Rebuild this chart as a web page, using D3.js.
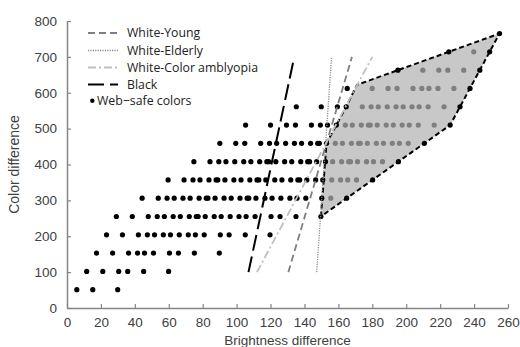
<!DOCTYPE html>
<html>
<head>
<meta charset="utf-8">
<script src="https://cdn.jsdelivr.net/npm/d3@7"></script>
<style>
body { margin: 0; background: #fff; }
text { font-family: "Liberation Sans", Arial, sans-serif; }
.legend text { font-family: "Open Sans", "Noto Sans", sans-serif; }
</style>
</head>
<body>
<script>
// colour difference levels (one row of dots per level)
var colorDiff = [51, 102, 153, 204, 255, 306, 357, 408, 459, 510, 561, 612, 663, 714, 765];

// brightness difference of every dot in each row
var brightness = [
  [5.8, 15.2, 29.9],
  [11.6, 21.1, 30.5, 35.8, 45.2, 59.9],
  [17.4, 26.9, 36.3, 41.6, 45.7, 51.0, 60.4, 65.7, 75.1, 89.8],
  [23.3, 32.7, 42.1, 47.4, 51.6, 56.8, 61.0, 66.2, 71.5, 75.7, 80.9, 90.4, 95.6, 105.1, 119.7],
  [29.1, 38.5, 47.9, 53.2, 57.4, 62.6, 66.8, 72.1, 76.2, 77.3, 81.5, 86.8, 90.9, 96.2, 101.4, 105.6, 110.9, 120.3, 125.6, 135.0, 149.7],
  [44.3, 53.8, 59.0, 63.2, 68.4, 72.6, 77.9, 82.1, 83.1, 87.3, 92.6, 96.8, 102.0, 106.2, 107.2, 111.4, 116.7, 120.9, 126.1, 131.4, 135.6, 140.8, 150.2, 155.5, 164.9],
  [59.6, 69.0, 74.3, 78.4, 83.7, 87.9, 88.9, 93.1, 98.4, 102.6, 107.8, 112.0, 113.1, 117.2, 122.5, 126.7, 131.9, 136.1, 137.2, 141.4, 146.6, 150.8, 156.1, 161.3, 165.5, 170.7, 180.2],
  [74.8, 84.3, 89.5, 93.7, 98.9, 104.2, 108.4, 113.6, 117.8, 118.9, 123.1, 128.3, 132.5, 137.8, 141.9, 143.0, 147.2, 152.4, 156.6, 161.9, 166.1, 167.1, 171.3, 176.6, 180.7, 186.0, 195.4],
  [90.1, 99.5, 104.8, 114.2, 119.4, 123.6, 128.9, 134.1, 138.3, 143.6, 147.8, 148.8, 153.0, 158.2, 162.4, 167.7, 171.9, 172.9, 177.1, 182.4, 186.6, 191.8, 196.0, 201.2, 210.7],
  [105.3, 120.0, 129.4, 134.7, 144.1, 149.4, 153.6, 158.8, 164.1, 168.2, 173.5, 177.7, 178.8, 182.9, 188.2, 192.4, 197.6, 201.8, 207.1, 216.5, 225.9],
  [135.2, 149.9, 159.4, 164.6, 174.1, 179.3, 183.5, 188.8, 194.0, 198.2, 203.4, 207.6, 212.9, 222.3, 231.7],
  [165.2, 179.9, 189.3, 194.6, 204.0, 209.2, 213.4, 218.7, 228.1, 237.6],
  [195.1, 209.8, 219.2, 224.5, 233.9, 243.4],
  [225.1, 239.8, 249.2],
  [255]
];

// shaded region corners
var regionX = [149.7, 153.0, 164.6, 171, 255, 225.9];
var regionY = [255, 459, 561, 622, 765, 510];

// threshold lines
var lineNames = ["White-Young", "White-Elderly", "White-Color amblyopia", "Black"];
var lineBottomX = [130.5, 147.2, 112, 107];
var lineTopX = [168, 156, 180, 134];
var lineBottomY = 100, lineTopY = 700;

var xTicks = [0, 20, 40, 60, 80, 100, 120, 140, 160, 180, 200, 220, 240, 260];
var yTicks = [0, 100, 200, 300, 400, 500, 600, 700, 800];

var lineStyles = [
  {color: "#7f7f7f", w: 1.8, dash: "7,4"},
  {color: "#8c8c8c", w: 1.3, dash: "1.2,1.2"},
  {color: "#c0c0c0", w: 1.8, dash: "8,3,2,3"},
  {color: "#000", w: 2, dash: "16,6"}
];

var margin = {top: 21, right: 12, bottom: 39, left: 67},
    width = 520 - margin.left - margin.right,
    height = 347 - margin.top - margin.bottom;

var x = d3.scaleLinear().domain([0, 260]).range([0, width]);
var y = d3.scaleLinear().domain([0, 800]).range([height, 0]);

var svg = d3.select("body").append("svg")
    .attr("width", width + margin.left + margin.right)
    .attr("height", height + margin.top + margin.bottom)
  .append("g")
    .attr("transform", "translate(" + margin.left + "," + margin.top + ")");

// flatten dots
var dots = [];
colorDiff.forEach(function(c, i) {
  brightness[i].forEach(function(b) { dots.push({b: b, c: c}); });
});

var region = regionX.map(function(v, i) { return [x(v), y(regionY[i])]; });

function distToSeg(p, a, b) {
  var dx = b[0] - a[0], dy = b[1] - a[1];
  var t = ((p[0] - a[0]) * dx + (p[1] - a[1]) * dy) / (dx * dx + dy * dy);
  t = Math.max(0, Math.min(1, t));
  var px = a[0] + t * dx - p[0], py = a[1] + t * dy - p[1];
  return Math.sqrt(px * px + py * py);
}
function insideRegion(d) {
  var p = [x(d.b), y(d.c)];
  if (!d3.polygonContains(region, p)) return false;
  for (var i = 0; i < region.length; i++) {
    if (distToSeg(p, region[i], region[(i + 1) % region.length]) < 2.2) return false;
  }
  return true;
}

// shaded region
svg.append("path")
    .attr("d", "M" + region.join("L") + "Z")
    .attr("fill", "#c8c8c8")
    .attr("stroke", "none");

// dots
svg.selectAll(".dot")
    .data(dots)
  .enter().append("circle")
    .attr("class", "dot")
    .attr("cx", function(d) { return x(d.b); })
    .attr("cy", function(d) { return y(d.c); })
    .attr("r", 2.6)
    .attr("fill", function(d) { return insideRegion(d) ? "#7f7f7f" : "#000"; });

// region outline
svg.append("path")
    .attr("d", "M" + region.join("L") + "Z")
    .attr("fill", "none")
    .attr("stroke", "#000")
    .attr("stroke-width", 2)
    .attr("stroke-dasharray", "5,3");

// threshold lines
lineNames.forEach(function(n, i) {
  var s = lineStyles[i];
  svg.append("line")
      .attr("x1", x(lineBottomX[i])).attr("y1", y(lineBottomY))
      .attr("x2", x(lineTopX[i])).attr("y2", y(lineTopY))
      .attr("stroke", s.color)
      .attr("stroke-width", s.w)
      .attr("stroke-dasharray", s.dash);
});

// axes
var xAxis = svg.append("g")
    .attr("transform", "translate(0," + height + ")")
    .call(d3.axisBottom(x).tickValues(xTicks).tickSizeInner(-4).tickSizeOuter(0).tickPadding(9));
var yAxis = svg.append("g")
    .call(d3.axisLeft(y).tickValues(yTicks).tickSizeInner(-4).tickSizeOuter(0).tickPadding(10));

[xAxis, yAxis].forEach(function(a) {
  a.select(".domain").attr("stroke", "#868686").attr("stroke-width", 1.5);
  a.selectAll(".tick line").attr("stroke", "#868686").attr("stroke-width", 1.2);
  a.selectAll(".tick text").attr("font-size", "13.5px").attr("fill", "#404040")
    .style("font-family", "'Liberation Sans', Arial, sans-serif");
});

// axis titles
svg.append("text")
    .attr("transform", "rotate(-90)")
    .attr("x", -height / 2)
    .attr("y", -48)
    .attr("text-anchor", "middle")
    .attr("font-size", "14px")
    .attr("fill", "#404040")
    .text("Color difference");
svg.append("text")
    .attr("x", width / 2)
    .attr("y", height + 36.5)
    .attr("text-anchor", "middle")
    .attr("font-size", "13.5px")
    .attr("fill", "#404040")
    .text("Brightness difference");

// legend
var legend = svg.append("g").attr("class", "legend");
var legendY = [33, 50.5, 67.5, 84.5];
lineNames.forEach(function(n, i) {
  var s = lineStyles[i];
  legend.append("line")
      .attr("x1", 88 - margin.left).attr("x2", 118 - margin.left)
      .attr("y1", legendY[i] - margin.top).attr("y2", legendY[i] - margin.top)
      .attr("stroke", s.color)
      .attr("stroke-width", s.w)
      .attr("stroke-dasharray", s.dash);
  legend.append("text")
      .attr("x", 127 - margin.left)
      .attr("y", legendY[i] - margin.top)
      .attr("dy", "0.35em")
      .attr("font-size", "12.3px")
      .attr("fill", "#222")
      .text(n);
});
legend.append("circle")
    .attr("cx", 92.3 - margin.left)
    .attr("cy", 100.7 - margin.top)
    .attr("r", 2.2)
    .attr("fill", "#000");
legend.append("text")
    .attr("x", 97 - margin.left)
    .attr("y", 100.7 - margin.top)
    .attr("dy", "0.35em")
    .attr("font-size", "12.3px")
    .attr("fill", "#222")
    .text("Web\u2212safe colors");
</script>
</body>
</html>
